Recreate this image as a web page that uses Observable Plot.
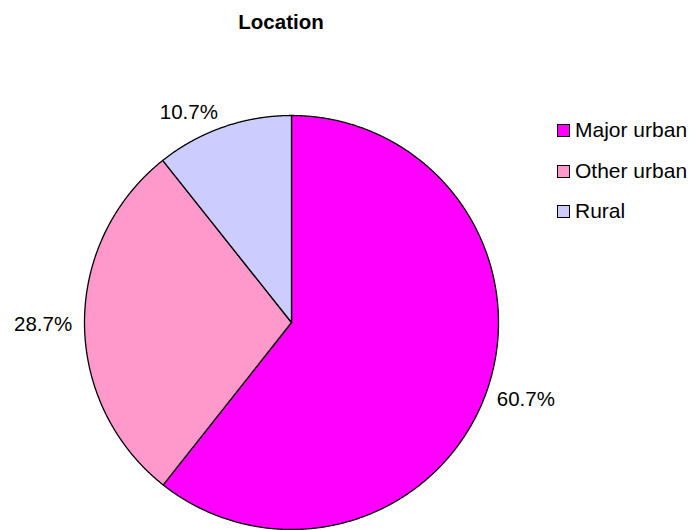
<!DOCTYPE html>
<html>
<head>
<meta charset="utf-8">
<script src="https://cdn.jsdelivr.net/npm/d3@7"></script>
<script src="https://cdn.jsdelivr.net/npm/@observablehq/plot@0.6"></script>
<style>
  html, body { margin: 0; padding: 0; background: #fff; }
  #wrap { position: relative; width: 690px; height: 530px; font-family: "Liberation Sans", Arial, sans-serif; }
  #title { position: absolute; left: 0; top: 12px; width: 562px; text-align: center; font-weight: bold; font-size: 20.5px; line-height: 20px; color: #000; }
  #legend { position: absolute; left: 557px; top: 0; }
  .row { position: absolute; left: 0; height: 20px; line-height: 20px; white-space: nowrap; font-size: 21px; color: #000; }
  .sw { position: absolute; left: 0; top: 4px; width: 11px; height: 11px; border: 1px solid #000; }
  .lb { position: absolute; left: 18px; top: 0; }
</style>
</head>
<body>
<div id="wrap">
  <div id="chart"></div>
  <div id="title"></div>
  <div id="legend"></div>
</div>
<script>
const title = "Location";
const categories = ["Major urban", "Other urban", "Rural"];
const values = [60.7, 28.7, 10.7];
const colors = ["#FF00FF", "#FF99CC", "#CCCCFF"];

const arcs = d3.pie().sort(null).value(d => d)(values);

// slice outlines in unit-circle coordinates (y up)
const slicePts = [];
arcs.forEach((a, i) => {
  const name = categories[i];
  slicePts.push({name, x: 0, y: 0});
  const n = Math.max(2, Math.ceil((a.endAngle - a.startAngle) / 0.004));
  for (let k = 0; k <= n; k++) {
    const t = a.startAngle + (a.endAngle - a.startAngle) * k / n;
    slicePts.push({name, x: Math.sin(t), y: Math.cos(t)});
  }
  slicePts.push({name, x: 0, y: 0});
});

// label anchor points just outside the rim
const labels = arcs.map((a, i) => {
  const m = (a.startAngle + a.endAngle) / 2;
  const s = Math.sin(m), c = Math.cos(m);
  const R = 1.05;
  return {
    text: values[i].toFixed(1) + "%",
    x: R * s, y: R * c, c,
    anchor: s >= 0 ? "start" : "end",
    line: c > 0.5 ? "bottom" : (c < -0.5 ? "top" : "middle")
  };
});

const textMarks = [];
for (const anchor of ["start", "end"]) {
  for (const line of ["bottom", "middle", "top"]) {
    const sub = labels.filter(d => d.anchor === anchor && d.line === line);
    for (const d of sub) {
      textMarks.push(Plot.text([d], {
        x: "x", y: "y", text: "text",
        textAnchor: anchor, lineAnchor: line,
        dx: anchor === "end" ? -2 : 0,
        dy: line === "middle" ? 2 - 10 * d.c : (line === "bottom" ? 2 : 0),
        fontSize: 20.5, fill: "#000",
        fontFamily: "Liberation Sans, Arial, sans-serif"
      }));
    }
  }
}

const chart = Plot.plot({
  width: 690,
  height: 530,
  margin: 0,
  style: {background: "#fff", fontFamily: "Liberation Sans, Arial, sans-serif"},
  x: {domain: [-1, 1], range: [84, 498], axis: null},
  y: {domain: [-1, 1], range: [529, 115], axis: null},
  color: {domain: categories, range: colors},
  marks: [
    Plot.line(slicePts, {
      x: "x", y: "y", z: "name", fill: "name",
      stroke: "#000", strokeWidth: 1.3, strokeLinejoin: "round", curve: "linear"
    }),
    ...textMarks
  ]
});
document.getElementById("chart").appendChild(chart);
document.getElementById("title").textContent = title;

const rowCenters = [130, 170.5, 211];
const legend = document.getElementById("legend");
categories.forEach((c, i) => {
  const row = document.createElement("div");
  row.className = "row";
  row.style.top = (rowCenters[i] - 10) + "px";
  const sw = document.createElement("div");
  sw.className = "sw";
  sw.style.background = colors[i];
  const lb = document.createElement("div");
  lb.className = "lb";
  lb.textContent = c;
  row.appendChild(sw);
  row.appendChild(lb);
  legend.appendChild(row);
});
</script>
</body>
</html>
